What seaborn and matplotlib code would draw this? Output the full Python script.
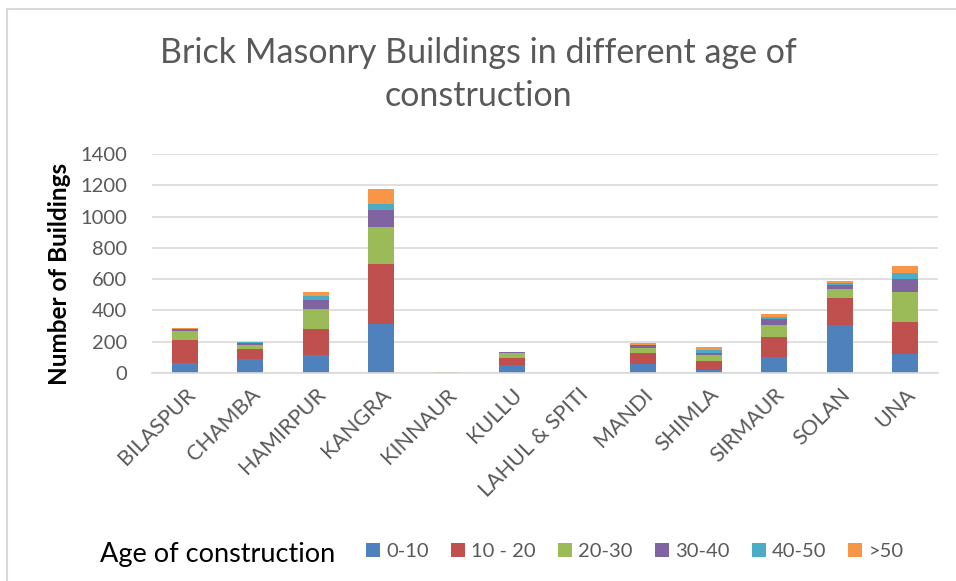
import matplotlib
matplotlib.use("Agg")
import matplotlib.pyplot as plt
from matplotlib.patches import Patch, Rectangle
import numpy as np
import pandas as pd
import seaborn as sns

districts = ["BILASPUR", "CHAMBA", "HAMIRPUR", "KANGRA", "KINNAUR", "KULLU",
             "LAHUL & SPITI", "MANDI", "SHIMLA", "SIRMAUR", "SOLAN", "UNA"]
age_groups = ["0-10", "10 - 20", "20-30", "30-40", "40-50", ">50"]

age_0_10 = [66, 90, 113, 312, 2, 52, 0, 59, 22, 101, 308, 123]
age_10_20 = [145, 63, 168, 384, 1, 47, 0, 66, 53, 128, 170, 200]
age_20_30 = [55, 28, 126, 234, 1, 28, 0, 36, 37, 81, 60, 192]
age_30_40 = [13, 13, 60, 111, 1, 6, 0, 15, 19, 34, 23, 85]
age_40_50 = [3, 4, 25, 41, 0, 2, 0, 6, 13, 13, 13, 38]
age_over_50 = [6, 3, 26, 96, 0, 2, 0, 8, 25, 17, 11, 49]

series = [age_0_10, age_10_20, age_20_30, age_30_40, age_40_50, age_over_50]
colors = ["#4F81BD", "#C0504D", "#9BBB59", "#8064A2", "#4BACC6", "#F79646"]

sns.set_theme(style="white")
plt.rcParams["font.family"] = ["Lato", "DejaVu Sans"]

fig = plt.figure(figsize=(9.56, 5.81), dpi=100)
ax = fig.add_axes([0.159, 0.358, 0.822, 0.377])

# stacked bars: each age group sits on top of the running total
df = pd.DataFrame({"district": districts})
bottom = np.zeros(len(districts))
for name, vals, col in zip(age_groups, series, colors):
    df["value"] = vals
    sns.barplot(data=df, x="district", y="value", order=districts,
                bottom=bottom.copy(), color=col, width=0.4, ax=ax,
                saturation=1, linewidth=0)
    bottom += np.array(vals)

ax.set_ylim(0, 1400)
ax.set_yticks(range(0, 1401, 200))
ax.yaxis.grid(True, color="#d9d9d9", linewidth=1.2)
ax.set_axisbelow(True)
for s in ["top", "right", "left"]:
    ax.spines[s].set_visible(False)
ax.spines["bottom"].set_color("#d9d9d9")
ax.spines["bottom"].set_linewidth(1.2)
ax.tick_params(axis="both", length=0, colors="#595959")
ax.tick_params(axis="y", pad=18, labelsize=14.5)
ax.tick_params(axis="x", labelsize=15.5)
ax.set_xlabel("")
ax.set_ylabel("Number of Buildings", fontsize=17.5, fontweight="bold",
              color="black")
ax.yaxis.set_label_coords(-0.103, 0.452)
ax.set_xticks(range(len(districts)))
ax.set_xticklabels(districts, rotation=45, ha="right", rotation_mode="anchor")
for lbl in ax.get_xticklabels():
    lbl.set_y(-0.03)

fig.text(0.5, 0.871, "Brick Masonry Buildings in different age of\nconstruction",
         ha="center", va="center", fontsize=24.5, color="#595959",
         linespacing=1.42)

fig.text(0.105, 0.045, "Age of construction", fontsize=19.5, color="black",
         ha="left", va="center")
handles = [Patch(facecolor=c, edgecolor="none", label=n)
           for n, c in zip(age_groups, colors)]
fig.legend(handles=handles, loc="center left", bbox_to_anchor=(0.383, 0.05),
           ncol=6, frameon=False, fontsize=14.5, handlelength=0.7,
           handleheight=0.7, handletextpad=0.3, columnspacing=1.1,
           borderaxespad=0, borderpad=0, labelcolor="#595959")

fig.patches.append(Rectangle((7 / 956, -0.1), 1.2, 1 - 9 / 581 + 0.1,
                             transform=fig.transFigure, fill=False,
                             edgecolor="#d9d9d9", linewidth=1.5))

fig.savefig("out.png", dpi=100, facecolor="white")
